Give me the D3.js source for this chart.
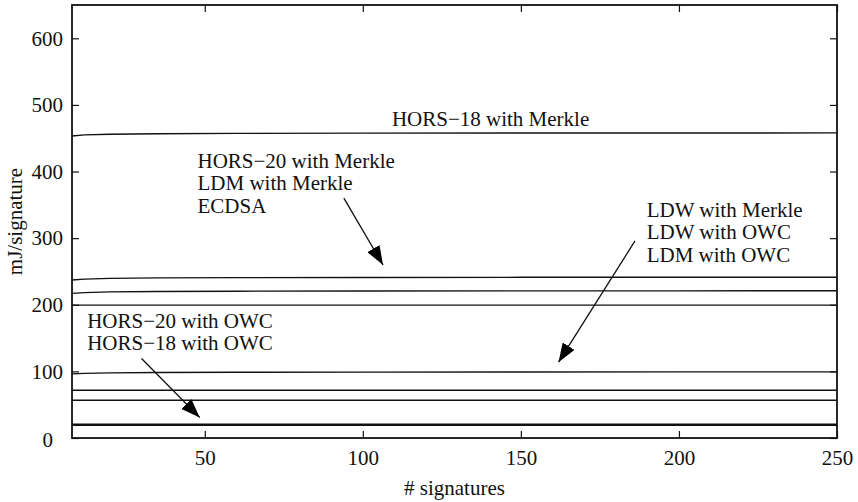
<!DOCTYPE html>
<html>
<head>
<meta charset="utf-8">
<script src="https://cdn.jsdelivr.net/npm/d3@7"></script>
<style>
  html, body { margin: 0; padding: 0; background: #fff; }
  svg text { font-family: "Liberation Serif", "Times New Roman", serif; fill: #111; }
</style>
</head>
<body>
<svg id="chart"></svg>
<script>
// sample points along # signatures
const xs = [8, 12, 20, 35, 60, 100, 150, 200, 250];

// mJ per signature, one array per curve
const hors18Merkle = [453.3, 455.0, 456.0, 456.8, 457.3, 457.6, 457.8, 457.9, 458.0];
const hors20Merkle = [237.2, 238.5, 239.6, 240.3, 240.7, 241.0, 241.2, 241.3, 241.4];
const ldmMerkle    = [217.1, 218.3, 219.3, 220.0, 220.4, 220.6, 220.8, 220.9, 221.0];
const ecdsa        = [199.5, 199.5, 199.5, 199.5, 199.5, 199.5, 199.5, 199.5, 199.5];
const ldwMerkle    = [96.3, 97.0, 97.8, 98.3, 98.6, 98.9, 99.1, 99.2, 99.3];
const ldwOwc       = [71.7, 71.7, 71.7, 71.7, 71.7, 71.7, 71.7, 71.7, 71.7];
const ldmOwc       = [56.7, 56.7, 56.7, 56.7, 56.7, 56.7, 56.7, 56.7, 56.7];
const hors20Owc    = [20.6, 20.6, 20.6, 20.6, 20.6, 20.6, 20.6, 20.6, 20.6];
const hors18Owc    = [19.0, 19.0, 19.0, 19.0, 19.0, 19.0, 19.0, 19.0, 19.0];

const seriesList = [hors18Merkle, hors20Merkle, ldmMerkle, ecdsa,
                    ldwMerkle, ldwOwc, ldmOwc, hors20Owc, hors18Owc];

const xTicks = [50, 100, 150, 200, 250];
const yTicks = [0, 100, 200, 300, 400, 500, 600];

// annotation text blocks and arrows, in data units
const labels = [
  { x: 109.2, y: 468.7, lines: ["HORS\u221218 with Merkle"] },
  { x: 47.7,  y: 406,   lines: ["HORS\u221220 with Merkle", "LDM with Merkle", "ECDSA"] },
  { x: 189.8, y: 332,   lines: ["LDW with Merkle", "LDW with OWC", "LDM with OWC"] },
  { x: 12.8,  y: 165.4, lines: ["HORS\u221220 with OWC", "HORS\u221218 with OWC"] }
];
const arrows = [
  { x1: 94,    y1: 360,   x2: 106.4, y2: 259.7 },
  { x1: 186.1, y1: 295.8, x2: 161.9, y2: 113.8 },
  { x1: 30,    y1: 119.4, x2: 48.4,  y2: 30.7 }
];

const W = 858, H = 502;
const margin = { top: 5, right: 21, bottom: 64, left: 72 };
const width = W - margin.left - margin.right,
      height = H - margin.top - margin.bottom;

const svg = d3.select("#chart").attr("width", W).attr("height", H);

svg.append("defs").append("marker")
    .attr("id", "head")
    .attr("viewBox", "0 0 10 10")
    .attr("refX", 10).attr("refY", 5)
    .attr("markerUnits", "userSpaceOnUse")
    .attr("markerWidth", 19).attr("markerHeight", 14)
    .attr("orient", "auto")
    .attr("preserveAspectRatio", "none")
  .append("path")
    .attr("d", "M0,0 L10,5 L0,10 Z")
    .attr("fill", "#000");

const g = svg.append("g")
    .attr("transform", "translate(" + margin.left + "," + margin.top + ")");

const x = d3.scaleLinear().domain([8, 250]).range([0, width]);
const y = d3.scaleLinear().domain([0, 650]).range([height, 0]);

const fontSize = 21;
const tickLen = 7;

// curves
const line = d3.line().x((d, i) => x(xs[i])).y(d => y(d));
g.selectAll(".curve")
    .data(seriesList)
    .enter().append("path")
    .attr("class", "curve")
    .attr("d", line)
    .attr("fill", "none")
    .attr("stroke", "#111")
    .attr("stroke-width", 1.4);

// axes (ticks drawn inward, mirrored on the opposite side)
function styleAxis(sel) {
  sel.select(".domain").remove();
  sel.selectAll(".tick line").attr("stroke", "#111").attr("stroke-width", 1.2);
  sel.selectAll(".tick text")
      .style("font-size", fontSize + "px")
      .attr("fill", "#111");
}

g.append("g")
    .attr("transform", "translate(0," + height + ")")
    .call(d3.axisBottom(x).tickValues(xTicks).tickSize(-tickLen).tickPadding(12))
    .call(styleAxis)
    .selectAll(".tick text").attr("dy", "0.71em");

g.append("g")
    .call(d3.axisTop(x).tickValues(xTicks).tickSize(-tickLen).tickFormat(""))
    .call(styleAxis);

const yAxisG = g.append("g")
    .call(d3.axisLeft(y).tickValues(yTicks).tickSize(-tickLen).tickPadding(9))
    .call(styleAxis);

// the "0" label sits a bit further left and lower, as in the original
yAxisG.selectAll(".tick text")
    .filter(d => d === 0)
    .attr("x", -19)
    .attr("dy", "0.40em");

g.append("g")
    .attr("transform", "translate(" + width + ",0)")
    .call(d3.axisRight(y).tickValues(yTicks).tickSize(-tickLen).tickFormat(""))
    .call(styleAxis);

// frame
g.append("rect")
    .attr("width", width).attr("height", height)
    .attr("fill", "none")
    .attr("stroke", "#111")
    .attr("stroke-width", 1.8);

// axis titles
svg.append("text")
    .attr("x", margin.left + width / 2)
    .attr("y", 495)
    .attr("text-anchor", "middle")
    .style("font-size", fontSize + "px")
    .text("# signatures");

svg.append("text")
    .attr("transform", "translate(22," + (margin.top + height / 2) + ") rotate(-90)")
    .attr("text-anchor", "middle")
    .style("font-size", fontSize + "px")
    .text("mJ/signature");

// annotations
labels.forEach(function(l) {
  const t = g.append("text")
      .attr("x", x(l.x))
      .attr("y", y(l.y))
      .style("font-size", fontSize + "px");
  l.lines.forEach(function(s, i) {
    t.append("tspan")
        .attr("x", x(l.x))
        .attr("dy", i === 0 ? 0 : 22.5)
        .text(s);
  });
});

g.selectAll(".arrow")
    .data(arrows)
    .enter().append("line")
    .attr("class", "arrow")
    .attr("x1", d => x(d.x1)).attr("y1", d => y(d.y1))
    .attr("x2", d => x(d.x2)).attr("y2", d => y(d.y2))
    .attr("stroke", "#111")
    .attr("stroke-width", 1.3)
    .attr("marker-end", "url(#head)");
</script>
</body>
</html>
